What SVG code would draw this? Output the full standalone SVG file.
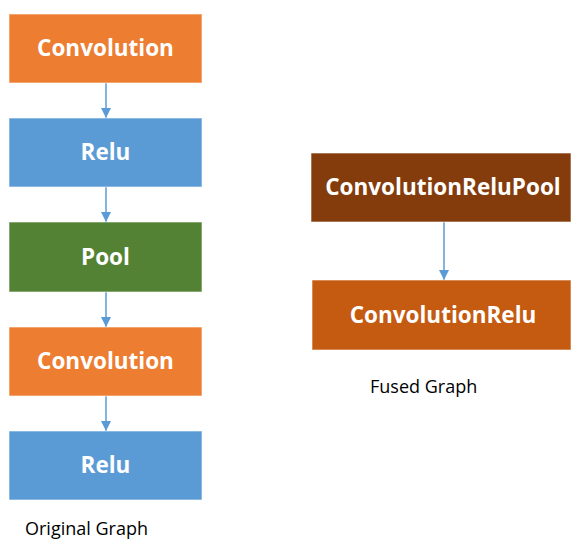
<svg xmlns="http://www.w3.org/2000/svg" width="571" height="539" viewBox="0 0 571 539">
<style>
.box{stroke:#ffffff;stroke-opacity:0.6;stroke-width:1}
.lbl{font-family:"Open Sans","Liberation Sans",sans-serif;font-weight:bold;font-size:22.5px;fill:#ffffff;text-anchor:middle;dominant-baseline:central}
.cap{font-family:"Open Sans","Liberation Sans",sans-serif;font-size:18px;fill:#000000}
.edge{stroke:#5B9BD5;stroke-width:1.5;fill:none;marker-end:url(#ah)}
</style>
<defs>
<marker id="ah" viewBox="0 0 10 10" refX="10" refY="5" markerWidth="10" markerHeight="10" markerUnits="userSpaceOnUse" orient="auto">
<path d="M0,0 L10,5 L0,10 z" fill="#5B9BD5"/>
</marker>
</defs>
<rect width="571" height="539" fill="#ffffff"/>
<g id="edges">
<line class="edge" x1="106" y1="83" x2="106" y2="118"/>
<line class="edge" x1="106" y1="187" x2="106" y2="222"/>
<line class="edge" x1="106" y1="292" x2="106" y2="327"/>
<line class="edge" x1="106" y1="396" x2="106" y2="431"/>
<line class="edge" x1="444" y1="222" x2="444" y2="280"/>
</g>
<g id="conv1"><rect class="box" x="9" y="14" width="193" height="69" fill="#ED7D31"/><text class="lbl" x="105.5" y="47.5">Convolution</text></g>
<g id="relu1"><rect class="box" x="9" y="118" width="193" height="69" fill="#5B9BD5"/><text class="lbl" x="105.5" y="151.5">Relu</text></g>
<g id="pool"><rect class="box" x="9" y="222" width="193" height="70" fill="#548235"/><text class="lbl" x="105.5" y="256">Pool</text></g>
<g id="conv2"><rect class="box" x="9" y="327" width="193" height="69" fill="#ED7D31"/><text class="lbl" x="105.5" y="360.5">Convolution</text></g>
<g id="relu2"><rect class="box" x="9" y="431" width="193" height="69" fill="#5B9BD5"/><text class="lbl" x="105.5" y="464.5">Relu</text></g>
<g id="fused1"><rect class="box" x="311" y="153" width="260" height="69" fill="#843C0C"/><text class="lbl" x="443" y="186.5">ConvolutionReluPool</text></g>
<g id="fused2"><rect class="box" x="312" y="280" width="259" height="70" fill="#C55A11"/><text class="lbl" x="443" y="314">ConvolutionRelu</text></g>
<text class="cap" x="370" y="393">Fused Graph</text>
<text class="cap" x="25" y="535">Original Graph</text>
</svg>
